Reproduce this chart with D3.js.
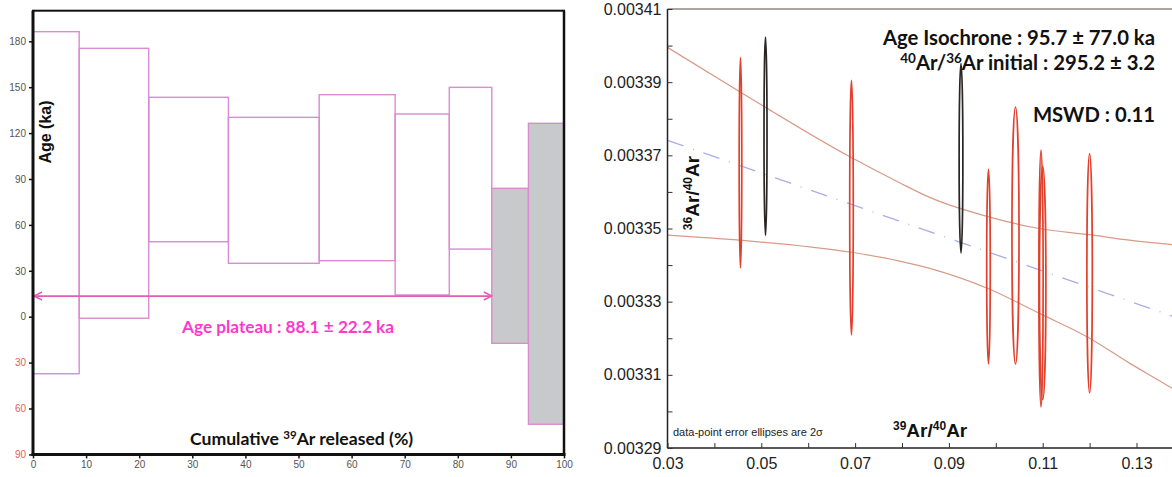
<!DOCTYPE html>
<html><head><meta charset="utf-8">
<script src="https://cdn.jsdelivr.net/npm/d3@7"></script>
<style>
body{margin:0;background:#fff;}
svg{display:block;}
</style></head>
<body>
<svg id="chart" width="1172" height="477"></svg>
<script>
// ---------- LEFT PANEL DATA (age spectrum) ----------
const stepBounds = [0, 8.7, 21.8, 36.8, 53.9, 68.2, 78.4, 86.4, 93.3, 100];   // cumulative 39Ar %
const ageTop     = [186.3, 175.4, 143.4, 130.3, 145.1, 132.5, 149.9, 83.9, 126.4];
const ageBottom  = [-37.3, -1.0, 49.0, 34.9, 36.6, 14.2, 44.2, -17.4, -70.3];
const inPlateau  = [true, true, true, true, true, true, true, false, false];
const plateauAge = 13.5;           // level of the plateau arrow (ka)
const plateauRange = [0, 86.4];    // % range of the arrow
const ageTicks = [-90, -60, -30, 0, 30, 60, 90, 120, 150, 180];
const pctTicks = [0, 10, 20, 30, 40, 50, 60, 70, 80, 90, 100];

// ---------- RIGHT PANEL DATA (inverse isochron) ----------
const ellX  = [0.04556, 0.05090, 0.06923, 0.09258, 0.09844, 0.10420, 0.10964, 0.11000, 0.12000];
const ellY  = [0.0033680, 0.0033752, 0.0033557, 0.0033692, 0.0033396, 0.0033481, 0.0033363, 0.0033351, 0.0033378];
const ellSX = [0.00028, 0.00032, 0.00038, 0.00040, 0.00038, 0.00075, 0.00045, 0.00068, 0.00058];
const ellSY = [0.0000288, 0.0000271, 0.0000348, 0.0000259, 0.0000266, 0.0000351, 0.0000351, 0.0000319, 0.0000327];
const ellUsed = [true, false, true, false, true, true, true, true, true];
const isoX = [0.03, 0.14];
const isoY = [0.0033741, 0.0033250];
const envX     = [0.0300, 0.0454, 0.0692, 0.0795, 0.0859, 0.0987, 0.1093, 0.1200, 0.1285, 0.1375, 0.1400];
const envUpper = [0.0033995, 0.0033874, 0.0033694, 0.0033625, 0.0033585, 0.0033531, 0.0033500, 0.0033483, 0.0033468, 0.0033456, 0.0033453];
const envLower = [0.0033482, 0.0033468, 0.0033435, 0.0033411, 0.0033391, 0.0033334, 0.0033268, 0.0033200, 0.0033132, 0.0033064, 0.0033044];
const ratioYTicks = [0.00329, 0.00331, 0.00333, 0.00335, 0.00337, 0.00339, 0.00341];
const ratioXTicks = [0.03, 0.05, 0.07, 0.09, 0.11, 0.13];

const svg = d3.select("#chart");
const SANS = "'Liberation Sans', Arial, sans-serif";
const HUM = "Lato, 'Open Sans', sans-serif";

// ================= LEFT PANEL =================
const xL = d3.scaleLinear().domain([0, 100]).range([33, 564]);
const yL = d3.scaleLinear().domain([-90, 200]).range([454.4, 10.7]);
const L = svg.append("g");

const steps = d3.range(ageTop.length).map(i => ({
  x0: stepBounds[i], x1: stepBounds[i + 1], top: ageTop[i], bot: ageBottom[i], inc: inPlateau[i]
}));
L.selectAll("rect.step").data(steps).join("rect")
  .attr("class", "step")
  .attr("x", d => xL(d.x0)).attr("width", d => xL(d.x1) - xL(d.x0))
  .attr("y", d => yL(d.top)).attr("height", d => yL(d.bot) - yL(d.top))
  .attr("fill", d => d.inc ? "none" : "#c8c9cb")
  .attr("stroke", "#d98ccf").attr("stroke-width", 1.4);

// plateau arrow
const arrowCol = "#e35db5";
svg.append("defs").html(`
  <marker id="ah" viewBox="0 0 10 10" refX="9" refY="5" markerWidth="10" markerHeight="10" markerUnits="userSpaceOnUse" orient="auto-start-reverse">
    <path d="M1,1 L9,5 L1,9" fill="none" stroke="${arrowCol}" stroke-width="1.5"/>
  </marker>
  <clipPath id="clipR"><rect x="667.5" y="9" width="510" height="439"/></clipPath>`);
L.append("line")
  .attr("x1", xL(plateauRange[0]) + 1).attr("x2", xL(plateauRange[1]))
  .attr("y1", yL(plateauAge)).attr("y2", yL(plateauAge))
  .attr("stroke", arrowCol).attr("stroke-width", 1.8)
  .attr("marker-start", "url(#ah)").attr("marker-end", "url(#ah)");

// frame
L.append("rect").attr("x", xL(0)).attr("y", yL(200)).attr("width", xL(100) - xL(0)).attr("height", yL(-90) - yL(200))
  .attr("fill", "none").attr("stroke", "#111").attr("stroke-width", 2);
L.append("line").attr("x1", xL(0)).attr("x2", xL(0)).attr("y1", yL(200)).attr("y2", yL(-90) + 1.5).attr("stroke", "#111").attr("stroke-width", 3);
L.append("line").attr("x1", xL(0) - 1.5).attr("x2", xL(100) + 1.5).attr("y1", yL(-90)).attr("y2", yL(-90)).attr("stroke", "#111").attr("stroke-width", 3);
L.append("line").attr("x1", xL(100)).attr("x2", xL(100)).attr("y1", yL(200)).attr("y2", yL(-90)).attr("stroke", "#111").attr("stroke-width", 2.5);

// axes
const axL = L.append("g").attr("transform", `translate(${xL(0)},0)`)
  .call(d3.axisLeft(yL).tickValues(ageTicks).tickFormat(d => Math.abs(d)).tickSize(4).tickPadding(3));
axL.select(".domain").remove();
axL.selectAll(".tick line").attr("stroke", "#111").attr("stroke-width", 1.5);
axL.selectAll(".tick text").attr("font-family", SANS).attr("font-size", 10)
  .attr("fill", d => d < 0 ? "#e4605a" : "#555");

const axB = L.append("g").attr("transform", `translate(0,${yL(-90)})`)
  .call(d3.axisBottom(xL).tickValues(pctTicks).tickSize(4).tickPadding(3));
axB.select(".domain").remove();
axB.selectAll(".tick line").attr("stroke", "#111").attr("stroke-width", 1.5);
axB.selectAll(".tick text").attr("font-family", SANS).attr("font-size", 10).attr("fill", "#555");

// labels
L.append("text").attr("transform", `translate(51,132) rotate(-90)`).attr("text-anchor", "middle")
  .attr("font-family", SANS).attr("font-weight", "bold").attr("font-size", 16).attr("fill", "#111").text("Age (ka)");

const cum = L.append("text").attr("x", 190).attr("y", 445).attr("font-family", HUM).attr("font-weight", "bold")
  .attr("font-size", 17.6).attr("fill", "#111");
cum.append("tspan").text("Cumulative ");
cum.append("tspan").attr("dy", -6).attr("font-size", 11.5).text("39");
cum.append("tspan").attr("dy", 6).text("Ar released (%)");

L.append("text").attr("x", 288).attr("y", 333).attr("text-anchor", "middle")
  .attr("font-family", HUM).attr("font-weight", "bold").attr("font-size", 17.2).attr("fill", "#ff38cc")
  .text("Age plateau : 88.1 ± 22.2 ka");

// ================= RIGHT PANEL =================
const xR = d3.scaleLinear().domain([0.03, 0.14]).range([667.5, 667.5 + 0.11 * 4690]);
const yR = d3.scaleLinear().domain([0.00329, 0.00341]).range([448, 9]);
const R = svg.append("g");
const P = R.append("g").attr("clip-path", "url(#clipR)");

// envelope curves
const envLine = () => d3.line().x((d, i) => xR(envX[i])).y(d => yR(d)).curve(d3.curveMonotoneX);
P.append("path").datum(envUpper).attr("d", envLine()).attr("fill", "none").attr("stroke", "#d99a86").attr("stroke-width", 1.2);
P.append("path").datum(envLower).attr("d", envLine()).attr("fill", "none").attr("stroke", "#d99a86").attr("stroke-width", 1.2);

// isochron line
P.append("path").datum(isoX.map((x, i) => [x, isoY[i]]))
  .attr("d", d3.line().x(d => xR(d[0])).y(d => yR(d[1])))
  .attr("fill", "none").attr("stroke", "#a9aee8").attr("stroke-width", 1.3).attr("stroke-dasharray", "17,10,1,10");

// ellipses
const ells = d3.range(ellX.length).map(i => ({ x: ellX[i], y: ellY[i], sx: ellSX[i], sy: ellSY[i], used: ellUsed[i] }));
P.selectAll("ellipse").data(ells).join("ellipse")
  .attr("cx", d => xR(d.x)).attr("cy", d => yR(d.y))
  .attr("rx", d => xR(d.x + d.sx) - xR(d.x)).attr("ry", d => yR(d.y) - yR(d.y + d.sy))
  .attr("fill", "none").attr("stroke", d => d.used ? "#e2402c" : "#2a2624").attr("stroke-width", 1.7);

// frame
R.append("line").attr("x1", xR(0.03)).attr("x2", 1172).attr("y1", yR(0.00341)).attr("y2", yR(0.00341)).attr("stroke", "#5a4a42").attr("stroke-width", 1.2);
R.append("line").attr("x1", xR(0.03)).attr("x2", xR(0.03)).attr("y1", yR(0.00341)).attr("y2", yR(0.00329)).attr("stroke", "#222").attr("stroke-width", 1.5);
R.append("line").attr("x1", xR(0.03)).attr("x2", 1172).attr("y1", yR(0.00329)).attr("y2", yR(0.00329)).attr("stroke", "#222").attr("stroke-width", 1.5);

// axes
const yMinor = d3.range(0.00329, 0.003411, 0.00001);
R.append("g").attr("transform", `translate(${xR(0.03)},0)`)
  .call(d3.axisRight(yR).tickValues(yMinor).tickSize(5).tickFormat(""))
  .call(g => { g.select(".domain").remove(); g.selectAll("line").attr("stroke", "#333"); });
const ayR = R.append("g").attr("transform", `translate(${xR(0.03)},0)`)
  .call(d3.axisLeft(yR).tickValues(ratioYTicks).tickSize(0).tickPadding(6).tickFormat(d3.format(".5f")));
ayR.select(".domain").remove();
ayR.selectAll("text").attr("font-family", SANS).attr("font-size", 16).attr("fill", "#222");

const xMinor = d3.range(0.03, 0.1401, 0.01);
R.append("g").attr("transform", `translate(0,${yR(0.00329)})`)
  .call(d3.axisTop(xR).tickValues(xMinor).tickSize(5).tickFormat(""))
  .call(g => { g.select(".domain").remove(); g.selectAll("line").attr("stroke", "#333"); });
const axR = R.append("g").attr("transform", `translate(0,${yR(0.00329)})`)
  .call(d3.axisBottom(xR).tickValues(ratioXTicks).tickSize(0).tickPadding(10).tickFormat(d3.format(".2f")));
axR.select(".domain").remove();
axR.selectAll("text").attr("font-family", SANS).attr("font-size", 16).attr("fill", "#222");

// axis titles
const yt = R.append("text").attr("transform", `translate(699,193) rotate(-90)`).attr("text-anchor", "middle")
  .attr("font-family", SANS).attr("font-weight", "bold").attr("font-size", 19).attr("fill", "#111");
yt.append("tspan").attr("font-size", 12).attr("dy", -7).text("36");
yt.append("tspan").attr("dy", 7).text("Ar/");
yt.append("tspan").attr("font-size", 12).attr("dy", -7).text("40");
yt.append("tspan").attr("dy", 7).text("Ar");

const xt = R.append("text").attr("x", 893).attr("y", 437)
  .attr("font-family", SANS).attr("font-weight", "bold").attr("font-size", 19).attr("fill", "#111");
xt.append("tspan").attr("font-size", 12).attr("dy", -7).text("39");
xt.append("tspan").attr("dy", 7).text("Ar/");
xt.append("tspan").attr("font-size", 12).attr("dy", -7).text("40");
xt.append("tspan").attr("dy", 7).text("Ar");

R.append("text").attr("x", 673).attr("y", 436).attr("font-family", SANS).attr("font-size", 11).attr("fill", "#222")
  .text("data-point error ellipses are 2σ");

// annotation texts
const ann = R.append("g").attr("font-family", HUM).attr("font-weight", "bold").attr("font-size", 20.3).attr("fill", "#111").attr("text-anchor", "end");
ann.append("text").attr("x", 1155).attr("y", 45).text("Age Isochrone : 95.7 ± 77.0 ka");
const a2 = ann.append("text").attr("x", 1155).attr("y", 70);
a2.append("tspan").attr("font-size", 13.5).attr("dy", -7).text("40");
a2.append("tspan").attr("dy", 7).text("Ar/");
a2.append("tspan").attr("font-size", 13.5).attr("dy", -7).text("36");
a2.append("tspan").attr("dy", 7).text("Ar initial : 295.2 ± 3.2");
ann.append("text").attr("x", 1155).attr("y", 122).text("MSWD : 0.11");
</script>
</body></html>
